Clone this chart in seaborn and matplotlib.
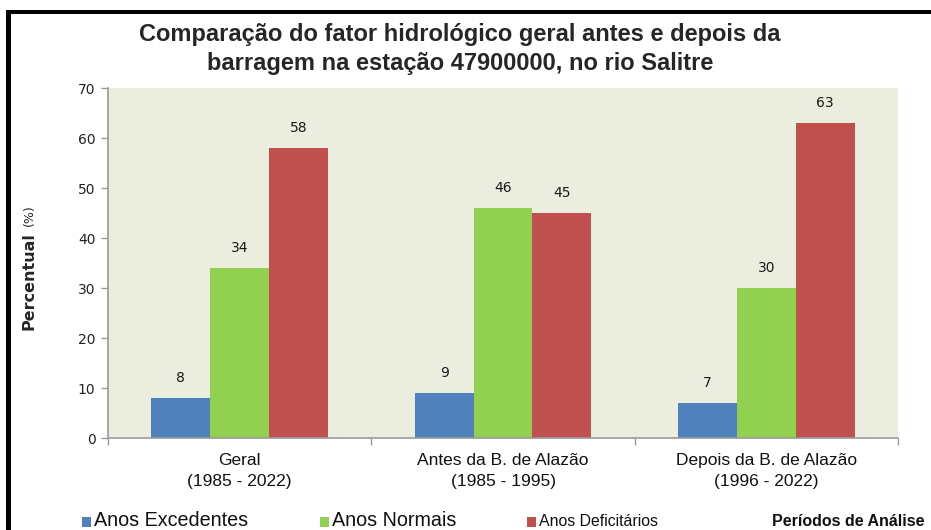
import matplotlib
matplotlib.use("Agg")
import matplotlib.pyplot as plt
import seaborn as sns
import pandas as pd
from matplotlib.patches import Rectangle

categories = ["Geral\n(1985 - 2022)", "Antes da B. de Alazão\n(1985 - 1995)", "Depois da B. de Alazão\n(1996 - 2022)"]
series = ["Anos Excedentes", "Anos Normais", "Anos Deficitários"]
excedentes = [8, 9, 7]
normais = [34, 46, 30]
deficitarios = [58, 45, 63]
yticks = [0, 10, 20, 30, 40, 50, 60, 70]
colors = ["#4F81BD", "#92D050", "#C0504D"]

title = "Comparação do fator hidrológico geral antes e depois da\nbarragem na estação 47900000, no rio Salitre"

rows = []
for i, c in enumerate(categories):
    for s, vals in zip(series, [excedentes, normais, deficitarios]):
        rows.append({"cat": c, "serie": s, "val": vals[i]})
df = pd.DataFrame(rows)

sns.set_theme(style="white")
plt.rcParams["font.family"] = ["DejaVu Sans"]

W, H = 931, 530
fig = plt.figure(figsize=(W / 100, H / 100), dpi=100)
ax = fig.add_axes([108 / W, 1 - 438 / H, (898 - 108) / W, (438 - 88) / H])

sns.barplot(data=df, x="cat", y="val", hue="serie", order=categories, hue_order=series,
            palette=colors, width=0.67, ax=ax, legend=False, saturation=1, linewidth=0)

ax.set_facecolor("#EBEEDE")
ax.set_xlim(-0.5, 2.5)
ax.set_ylim(0, 70)
ax.set_yticks(yticks)
ax.set_xlabel("")
ax.set_ylabel("")

for cont in ax.containers:
    for bar in cont:
        h = bar.get_height()
        ax.annotate(f"{h:.0f}", (bar.get_x() + bar.get_width() / 2, h), xytext=(0, 14.4),
                    textcoords="offset points", ha="center", va="center", fontsize=10, color="#1a1a1a")

for side in ["top", "right"]:
    ax.spines[side].set_visible(False)
for side in ["left", "bottom"]:
    ax.spines[side].set_color("#9a9a9a")
    ax.spines[side].set_linewidth(1.2)

sans = ["Liberation Sans", "DejaVu Sans"]
ax.tick_params(axis="y", which="major", left=True, length=5, width=1, color="#9a9a9a",
               labelsize=10, labelcolor="#222222", pad=4)
ax.set_xticks([0, 1, 2])
ax.set_xticklabels(categories, fontsize=12.5, color="#111111", linespacing=1.45, family=sans)
ax.tick_params(axis="x", which="major", length=0, pad=11)
ax.set_xticks([-0.5, 0.5, 1.5, 2.5], minor=True)
ax.tick_params(axis="x", which="minor", bottom=True, length=5, width=1, color="#9a9a9a")

fig.text(460 / W, 1 - 49 / H, title, ha="center", va="center", fontsize=17, fontweight="bold",
         family=sans, linespacing=1.3)

# y label: bold "Percentual" + normal "(%)"
fig.text(29 / W, 1 - 281 / H, "Percentual", rotation=90, ha="center", va="center",
         fontsize=11.5, fontweight="bold", family=["DejaVu Sans"])
fig.text(29 / W, 1 - 215 / H, "(%)", rotation=90, ha="center", va="center",
         fontsize=9, family=["DejaVu Sans"])

# legend (manual)
leg_x = [82, 320, 527]
leg_fs = [14.2, 14.2, 11.4]
for x, s, col, fs in zip(leg_x, series, colors, leg_fs):
    fig.add_artist(Rectangle((x / W, 1 - 527 / H), 9 / W, 10 / H, transform=fig.transFigure,
                             facecolor=col, edgecolor="none"))
    fig.text((x + 12) / W, 1 - 521 / H, s, ha="left", va="center", fontsize=fs,
             family=sans, color="#111111")
fig.text(772 / W, 1 - 521 / H, "Períodos de Análise", ha="left", va="center", fontsize=11.5,
         fontweight="bold", family=sans, color="#111111")

# black frame lines (left and top)
fig.add_artist(Rectangle((6 / W, 0), 5 / W, 1 - 10 / H, transform=fig.transFigure,
                         facecolor="black", edgecolor="none"))
fig.add_artist(Rectangle((6 / W, 1 - 14 / H), 1 - 6 / W, 4 / H, transform=fig.transFigure,
                         facecolor="black", edgecolor="none"))

fig.savefig("out.png", dpi=100, facecolor="white")
